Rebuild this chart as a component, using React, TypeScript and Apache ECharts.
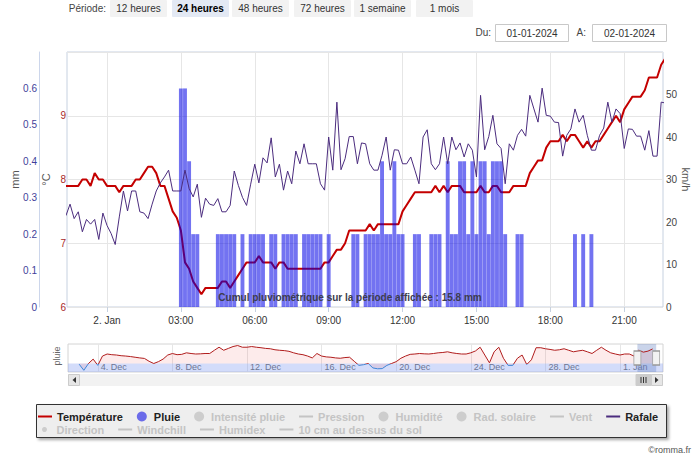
import React, { useEffect, useRef } from 'react';
import * as echarts from 'echarts';

// ---------- DATA ----------
// 10-minute samples starting 1 Jan 2024 22:20
const temperature = [
  7.9, 7.9, 7.9, 7.9, 8.0, 8.0, 7.9, 8.1, 8.0, 8.0,
  7.9, 7.9, 7.9, 7.8, 7.9, 7.9, 7.9, 8.0, 8.0, 8.1,
  8.2, 8.2, 8.1, 7.9, 7.9, 7.7, 7.5, 7.4, 7.2, 6.7,
  6.6, 6.4, 6.3, 6.2, 6.3, 6.3, 6.3, 6.3, 6.4, 6.4,
  6.3, 6.4, 6.5, 6.6, 6.7, 6.7, 6.7, 6.8, 6.7, 6.7,
  6.7, 6.6, 6.7, 6.7, 6.6, 6.6, 6.6, 6.6, 6.6, 6.6,
  6.6, 6.6, 6.6, 6.7, 6.7, 6.8, 6.9, 6.9, 7.0, 7.2,
  7.2, 7.2, 7.2, 7.2, 7.3, 7.2, 7.3, 7.3, 7.3, 7.3,
  7.3, 7.3, 7.5, 7.6, 7.7, 7.8, 7.8, 7.8, 7.8, 7.8,
  7.9, 7.8, 7.9, 7.8, 7.9, 7.9, 7.9, 7.8, 7.8, 7.8,
  7.8, 7.9, 7.8, 7.8, 7.9, 7.9, 7.8, 7.8, 7.8, 7.9,
  7.9, 7.9, 7.9, 8.1, 8.2, 8.3, 8.3, 8.5, 8.6, 8.6,
  8.6, 8.7, 8.6, 8.7, 8.7, 8.6, 8.5, 8.6, 8.5, 8.6,
  8.6, 8.7, 8.8, 8.9, 9.0, 8.9, 9.1, 9.2, 9.3, 9.3,
  9.3, 9.4, 9.6, 9.6, 9.6, 9.8, 9.9,
];

const rafale = [
  21.5, 24.2, 20.8, 22.4, 17.7, 20.6, 19.5, 20.6, 15.9, 22.1,
  19.2, 17.3, 14.7, 21.2, 27.3, 22.6, 27.3, 27.3, 22.4, 22.1,
  20.8, 24.2, 27.3, 29.2, 30.6, 32.2, 27.3, 27.3, 27.3, 32.2,
  27.9, 25.9, 28.9, 21.1, 25.6, 24.2, 23.9, 25.5, 22.4, 22.4,
  23.9, 32.0, 28.6, 25.8, 23.9, 28.9, 33.6, 29.2, 35.1, 33.9,
  39.8, 30.6, 33.6, 27.5, 32.0, 29.0, 36.7, 33.7, 38.4, 33.7,
  33.7, 33.7, 29.0, 27.5, 40.0, 32.2, 48.2, 32.3, 34.9, 40.1,
  40.1, 33.7, 38.6, 38.4, 33.7, 32.2, 32.2, 35.7, 40.0, 32.2,
  37.0, 36.9, 33.7, 33.7, 35.3, 32.2, 29.0, 40.0, 41.7, 33.7,
  32.3, 33.7, 40.0, 33.7, 40.0, 37.0, 38.6, 35.3, 38.4, 36.9,
  30.6, 49.8, 37.0, 40.1, 45.1, 38.4, 37.3, 29.0, 38.4, 36.9,
  40.4, 41.8, 40.2, 49.8, 46.6, 43.5, 51.5, 45.1, 44.9, 43.5,
  43.4, 35.5, 40.4, 41.9, 46.6, 43.5, 45.1, 40.4, 36.9, 36.9,
  40.4, 42.1, 48.2, 43.5, 46.6, 45.5, 37.3, 41.9, 41.8, 40.2,
  40.2, 36.9, 41.5, 35.5, 35.5, 48.2, 48.0,
];

const pluie = [
  0, 0, 0, 0, 0, 0, 0, 0, 0, 0,
  0, 0, 0, 0, 0, 0, 0, 0, 0, 0,
  0, 0, 0, 0, 0, 0, 0, 0, 0.6, 0.6,
  0.4, 0.2, 0.2, 0, 0, 0, 0, 0.2, 0.2, 0.2,
  0.2, 0.2, 0, 0.2, 0, 0.2, 0.2, 0.2, 0.2, 0,
  0.2, 0.2, 0, 0.2, 0.2, 0.2, 0.2, 0, 0.2, 0.2,
  0.2, 0.2, 0.2, 0, 0.2, 0, 0, 0, 0, 0,
  0.2, 0.2, 0, 0.2, 0.2, 0.2, 0.2, 0.4, 0.2, 0.2,
  0.4, 0.2, 0.2, 0, 0, 0.2, 0.2, 0, 0, 0.2,
  0.2, 0.2, 0, 0.4, 0.2, 0.2, 0.4, 0.4, 0.2, 0.4,
  0.2, 0.4, 0.4, 0.2, 0.4, 0.4, 0.4, 0.2, 0, 0,
  0.2, 0.2, 0, 0, 0, 0, 0, 0, 0, 0,
  0, 0, 0, 0, 0.2, 0, 0.2, 0, 0.2, 0,
  0, 0, 0, 0, 0, 0, 0, 0, 0, 0,
  0, 0, 0, 0, 0, 0, 0,
];

// navigator: 6-hourly temperatures from 3 Dec 2023 00:00
const navTemperature = [
  -0.4, -4, 0, 2.6, -1.1, 4.4, 5.6, 5.2, 5.0, 4.6,
  4.4, 4.1, 3.7, 3.3, 3.0, 1.3, 0, 1.1, 2.6, 5.0,
  5.9, 5.2, 5.4, 6.3, 5.9, 5.6, 5.7, 5.9, 5.9, 7.8,
  9.6, 7.8, 8.9, 10, 10.6, 9.6, 9.6, 10, 9.6, 9.3,
  8.9, 8.7, 8.1, 7.8, 7.6, 7.2, 6.3, 5.6, 5.2, 4.4,
  3.3, 5.9, 4.4, 3.9, 3.7, 3.3, 3.1, 3.5, 3.7, 1.3,
  -1.1, -0.7, 0, -2.6, -3.1, -3, -1.1, 0, 1.1, 3.1,
  4.4, 5.4, 5.6, 5.9, 5.7, 5.6, 5.9, 6.3, 6.5, 6.9,
  6.3, 5.9, 5.6, 5.6, 6.3, 7.4, 9.6, 5.0, 0.4, 6.9,
  9.6, 3.1, -1.1, -1.1, 3.1, 5.0, -0.6, 2.2, 9.3, 9.3,
  8.7, 8.3, 7.8, 8.1, 8.7, 7.8, 6.9, 7.4, 7.8, 6.9,
  5.9, 7.8, 9.6, 7.8, 6.3, 5.6, 5.0, 5.6, 5.6, 4.4,
  7.9, 6.7, 7.3, 8.6,
];

const xTickLabels = ['2. Jan', '03:00', '06:00', '09:00', '12:00', '15:00', '18:00', '21:00'];
const navTickLabels = ['4. Dec', '8. Dec', '12. Dec', '16. Dec', '20. Dec', '24. Dec', '28. Dec', '1. Jan'];
const periodButtons = ['12 heures', '24 heures', '48 heures', '72 heures', '1 semaine', '1 mois'];
const cumulText = 'Cumul pluviométrique sur la période affichée : 15.8 mm';

// ---------- time helpers ----------
const MINUTE = 60e3;
const HOUR = 60 * MINUTE;
const DAY = 24 * HOUR;
const SAMPLE_START = Date.UTC(2024, 0, 1, 22, 20);
const SAMPLE_STEP = 10 * MINUTE;
const AX_MIN = Date.UTC(2024, 0, 1, 22, 22, 34);
const AX_MAX = Date.UTC(2024, 0, 2, 22, 34, 26);
const xTickTimes = xTickLabels.map((_, i) => Date.UTC(2024, 0, 2) + i * 3 * HOUR);
const NAV_START = Date.UTC(2023, 11, 3);
const NAV_STEP = 6 * HOUR;
const NAV_MIN = Date.UTC(2023, 11, 2, 9, 38);
const NAV_MAX = Date.UTC(2024, 0, 3, 7, 20);
const navTickTimes = navTickLabels.map((_, i) => Date.UTC(2023, 11, 4) + i * 4 * DAY);

const FONT = '"Liberation Sans", Arial, sans-serif';
const LINE_ICON = 'path://M0 0H14V2H0Z';

function buildOption(): any {
  const tData = temperature.map((v, i) => [SAMPLE_START + i * SAMPLE_STEP, v]);
  const gData = rafale.map((v, i) => [SAMPLE_START + i * SAMPLE_STEP, v]);
  const rData = pluie.map((v, i) => [SAMPLE_START + i * SAMPLE_STEP, v]);
  const nData = navTemperature.map((v, i) => [NAV_START + i * NAV_STEP, v]);

  const graphics: any[] = [];
  const txt = (x: number, y: number, text: string, opts: any = {}) => ({
    type: 'text', x, y, z: opts.z ?? 10, rotation: opts.rotation ?? 0,
    style: {
      text, fill: opts.fill ?? '#333',
      font: `${opts.bold ? 'bold ' : ''}${opts.size ?? 10}px ${FONT}`,
      align: opts.align ?? 'left', verticalAlign: 'middle',
      textAlign: opts.align ?? 'left', textVerticalAlign: 'middle',
    },
  });

  // period selector
  graphics.push(txt(106, 8.5, 'Période:', { align: 'right', fill: '#444' }));
  const btnX = [110, 172, 232, 294, 354, 416];
  periodButtons.forEach((label, i) => {
    const sel = i === 1;
    graphics.push({ type: 'rect', z: 5, shape: { x: btnX[i], y: 0, width: 57, height: 17, r: 1 }, style: { fill: sel ? '#e3e9f4' : '#f2f2f2' } });
    graphics.push(txt(btnX[i] + 28.5, 8.5, label, { align: 'center', bold: sel, fill: sel ? '#000' : '#333' }));
  });
  // date inputs
  graphics.push(txt(491, 32.5, 'Du:', { align: 'right', fill: '#444' }));
  graphics.push({ type: 'rect', z: 5, shape: { x: 495.5, y: 24.5, width: 73, height: 17 }, style: { fill: '#fff', stroke: '#c8c8c8', lineWidth: 1 } });
  graphics.push(txt(532, 33, '01-01-2024', { align: 'center', fill: '#333' }));
  graphics.push(txt(586, 32.5, 'A:', { align: 'right', fill: '#444' }));
  graphics.push({ type: 'rect', z: 5, shape: { x: 592.5, y: 24.5, width: 74, height: 17 }, style: { fill: '#fff', stroke: '#c8c8c8', lineWidth: 1 } });
  graphics.push(txt(629.5, 33, '02-01-2024', { align: 'center', fill: '#333' }));

  // cumul label
  graphics.push(txt(350, 297, cumulText, { align: 'center', bold: true, fill: '#3c3c4e', z: 50 }));

  // navigator label
  graphics.push(txt(57, 356, 'pluie', { align: 'center', fill: '#666', size: 9, rotation: Math.PI / 2 }));

  // scrollbar
  graphics.push({ type: 'rect', z: 5, shape: { x: 68, y: 374, width: 595, height: 12 }, style: { fill: '#f2f2f2' } });
  graphics.push({ type: 'rect', z: 6, shape: { x: 68.5, y: 374.5, width: 11, height: 11 }, style: { fill: '#e6e6e6', stroke: '#cccccc' } });
  graphics.push({ type: 'polygon', z: 7, shape: { points: [[76, 377], [76, 383], [72.5, 380]] }, style: { fill: '#333' } });
  graphics.push({ type: 'rect', z: 6, shape: { x: 651.5, y: 374.5, width: 11, height: 11 }, style: { fill: '#e6e6e6', stroke: '#cccccc' } });
  graphics.push({ type: 'polygon', z: 7, shape: { points: [[655, 377], [655, 383], [658.5, 380]] }, style: { fill: '#333' } });
  graphics.push({ type: 'rect', z: 6, shape: { x: 636, y: 374.5, width: 15, height: 11 }, style: { fill: '#cccccc', stroke: '#cccccc' } });
  [641, 643.5, 646].forEach((gx) => {
    graphics.push({ type: 'line', z: 7, shape: { x1: gx, y1: 377, x2: gx, y2: 383 }, style: { stroke: '#333', lineWidth: 1 } });
  });

  // legend box
  graphics.push({
    type: 'rect', z: 1, shape: { x: 36.5, y: 404.5, width: 630, height: 33 },
    style: { fill: '#eeeeee', stroke: '#333', lineWidth: 1, shadowBlur: 3, shadowOffsetX: 2, shadowOffsetY: 2, shadowColor: 'rgba(0,0,0,0.35)' },
  });

  // credits
  graphics.push(txt(691, 450, '©romma.fr', { align: 'right', fill: '#555', size: 9 }));

  const legendText = { fontFamily: FONT, fontSize: 11, fontWeight: 'bold', color: '#222' };

  const dummyLine = (name: string) => ({ name, type: 'line', xAxisIndex: 0, yAxisIndex: 0, symbol: 'none', data: [], lineStyle: { color: '#888', width: 2 }, itemStyle: { color: '#888' } });
  const dummyDot = (name: string) => ({ name, type: 'scatter', xAxisIndex: 0, yAxisIndex: 0, data: [], itemStyle: { color: '#888' } });

  const series: any[] = [
    {
      name: 'Température', type: 'line', xAxisIndex: 0, yAxisIndex: 0, symbol: 'none', z: 2,
      data: tData, lineStyle: { color: '#c40000', width: 2 }, itemStyle: { color: '#c40000' },
    },
    {
      name: 'Pluie', type: 'bar', xAxisIndex: 0, yAxisIndex: 1, z: 3, barWidth: 3.9,
      data: rData, itemStyle: { color: 'rgba(0,0,230,0.55)' },
    },
    {
      name: 'Rafale', type: 'line', xAxisIndex: 0, yAxisIndex: 2, symbol: 'none', z: 4,
      data: gData, lineStyle: { color: '#4b2c7e', width: 1 }, itemStyle: { color: '#4b2c7e' },
    },
    dummyDot('Intensité pluie'),
    dummyLine('Pression'),
    dummyDot('Humidité'),
    dummyDot('Rad. solaire'),
    dummyLine('Vent'),
    dummyDot('Direction'),
    dummyLine('Windchill'),
    dummyLine('Humidex'),
    dummyLine('10 cm au dessus du sol'),
  ];
  const navIndex = series.length;
  series.push({
    name: 'nav', type: 'line', xAxisIndex: 1, yAxisIndex: 3, symbol: 'none', silent: true, z: 2,
    data: nData, lineStyle: { width: 1 },
    areaStyle: { color: 'rgba(235,80,80,0.16)', origin: 0 },
    markArea: {
      silent: true,
      data: [
        [{ yAxis: -5, itemStyle: { color: 'rgba(120,150,240,0.33)' } }, { yAxis: 0 }],
        [{ xAxis: AX_MIN, itemStyle: { color: 'rgba(102,133,194,0.35)' } }, { xAxis: AX_MAX }],
      ],
    },
    markPoint: {
      silent: true, symbol: 'rect', symbolSize: [7, 14], label: { show: false },
      itemStyle: { color: '#f2f2f2', borderColor: '#999', borderWidth: 1 },
      data: [{ coord: [AX_MIN, 3.25] }, { coord: [AX_MAX, 3.25] }],
    },
  });

  const nameStyle = { color: '#555', fontSize: 11 };

  return {
    animation: false,
    textStyle: { fontFamily: FONT },
    graphic: { elements: graphics },
    grid: [
      { left: 67, top: 52, width: 596, height: 255, show: true, borderColor: '#c6d1e0', borderWidth: 1, containLabel: false, outerBoundsMode: 'none' },
      { left: 68, top: 344, width: 595, height: 28, show: true, borderColor: '#d4d4d4', borderWidth: 1, containLabel: false, outerBoundsMode: 'none' },
    ],
    visualMap: [{
      type: 'piecewise', show: false, seriesIndex: navIndex, dimension: 1,
      pieces: [{ min: -20, max: 0, color: '#3d86d8' }, { min: 0, max: 30, color: '#b01c1c' }],
    }],
    legend: [
      {
        left: 33, top: 406, itemWidth: 14, itemHeight: 10, itemGap: 14, z: 10,
        textStyle: legendText, inactiveColor: '#c4c4c4',
        data: [
          { name: 'Température', icon: LINE_ICON }, { name: 'Pluie', icon: 'circle' }, { name: 'Intensité pluie', icon: 'circle' },
          { name: 'Pression', icon: LINE_ICON }, { name: 'Humidité', icon: 'circle' }, { name: 'Rad. solaire', icon: 'circle' },
          { name: 'Vent', icon: LINE_ICON }, { name: 'Rafale', icon: LINE_ICON },
        ],
        selected: { 'Intensité pluie': false, 'Pression': false, 'Humidité': false, 'Rad. solaire': false, 'Vent': false },
      },
      {
        left: 37, top: 419, itemWidth: 14, itemHeight: 5, itemGap: 14, z: 10,
        textStyle: legendText, inactiveColor: '#c4c4c4',
        data: [
          { name: 'Direction', icon: 'circle' }, { name: 'Windchill', icon: LINE_ICON },
          { name: 'Humidex', icon: LINE_ICON }, { name: '10 cm au dessus du sol', icon: LINE_ICON },
        ],
        selected: { 'Direction': false, 'Windchill': false, 'Humidex': false, '10 cm au dessus du sol': false },
      },
    ],
    xAxis: [
      {
        type: 'value', gridIndex: 0, min: AX_MIN, max: AX_MAX,
        axisLine: { show: false },
        axisTick: { show: true, customValues: xTickTimes, length: 5, lineStyle: { color: '#c6d1e0' } },
        axisLabel: {
          customValues: xTickTimes, color: '#333', fontSize: 10, margin: 8,
          formatter: (v: number) => xTickLabels[xTickTimes.indexOf(v)] ?? '',
        },
        splitLine: { show: true, lineStyle: { color: '#e6e6e6' } },
      },
      {
        type: 'value', gridIndex: 1, min: NAV_MIN, max: NAV_MAX,
        axisLine: { show: false },
        axisTick: { show: false, customValues: navTickTimes },
        axisLabel: {
          customValues: navTickTimes, inside: true, color: '#666', fontSize: 9, margin: 1, align: 'left', padding: [0, 0, 0, 3],
          formatter: (v: number) => navTickLabels[navTickTimes.indexOf(v)] ?? '',
        },
        splitLine: { show: true, lineStyle: { color: '#e6e6e6' } },
      },
    ],
    yAxis: [
      {
        type: 'value', gridIndex: 0, position: 'left', min: 6, max: 10, interval: 1,
        name: '°C', nameLocation: 'middle', nameGap: 16, nameRotate: 90, nameMoveOverlap: false,
        nameTextStyle: nameStyle,
        axisLine: { show: false }, axisTick: { show: false },
        axisLabel: { color: '#a82828', fontSize: 10, margin: 1, showMaxLabel: false, padding: [0, 0, 8, 0] },
        splitLine: { show: true, lineStyle: { color: '#e6e6e6' } },
      },
      {
        type: 'value', gridIndex: 0, position: 'left', offset: 28, min: 0, max: 0.7, interval: 0.1,
        name: 'mm', nameLocation: 'middle', nameGap: 19, nameRotate: 90, nameMoveOverlap: false,
        nameTextStyle: nameStyle,
        axisLine: { show: true, lineStyle: { color: '#ccd6eb' } }, axisTick: { show: false },
        axisLabel: {
          color: '#3f3f9a', fontSize: 10, margin: 2, showMaxLabel: false, padding: [0, 0, 8, 0],
          formatter: (v: number) => String(Math.round(v * 10) / 10),
        },
        splitLine: { show: false },
      },
      {
        type: 'value', gridIndex: 0, position: 'right', min: 0, max: 60, interval: 10,
        name: 'km/h', nameLocation: 'middle', nameGap: 17, nameRotate: -90, nameMoveOverlap: false,
        nameTextStyle: nameStyle,
        axisLine: { show: false }, axisTick: { show: false },
        axisLabel: { color: '#444', fontSize: 10, margin: 3, showMaxLabel: false, padding: [0, 0, 8, 0] },
        splitLine: { show: false },
      },
      { type: 'value', gridIndex: 1, min: -5, max: 11.5, show: false, splitLine: { show: false } },
    ],
    series,
  };
}

export default function App() {
  const ref = useRef<HTMLDivElement>(null);
  useEffect(() => {
    if (!ref.current) return;
    const chart = echarts.init(ref.current, null, { renderer: 'svg' });
    chart.setOption(buildOption());
    return () => chart.dispose();
  }, []);
  return (
    <div
      ref={ref}
      style={{ position: 'fixed', left: 0, top: 0, width: 700, height: 462, background: '#fff' }}
    />
  );
}
